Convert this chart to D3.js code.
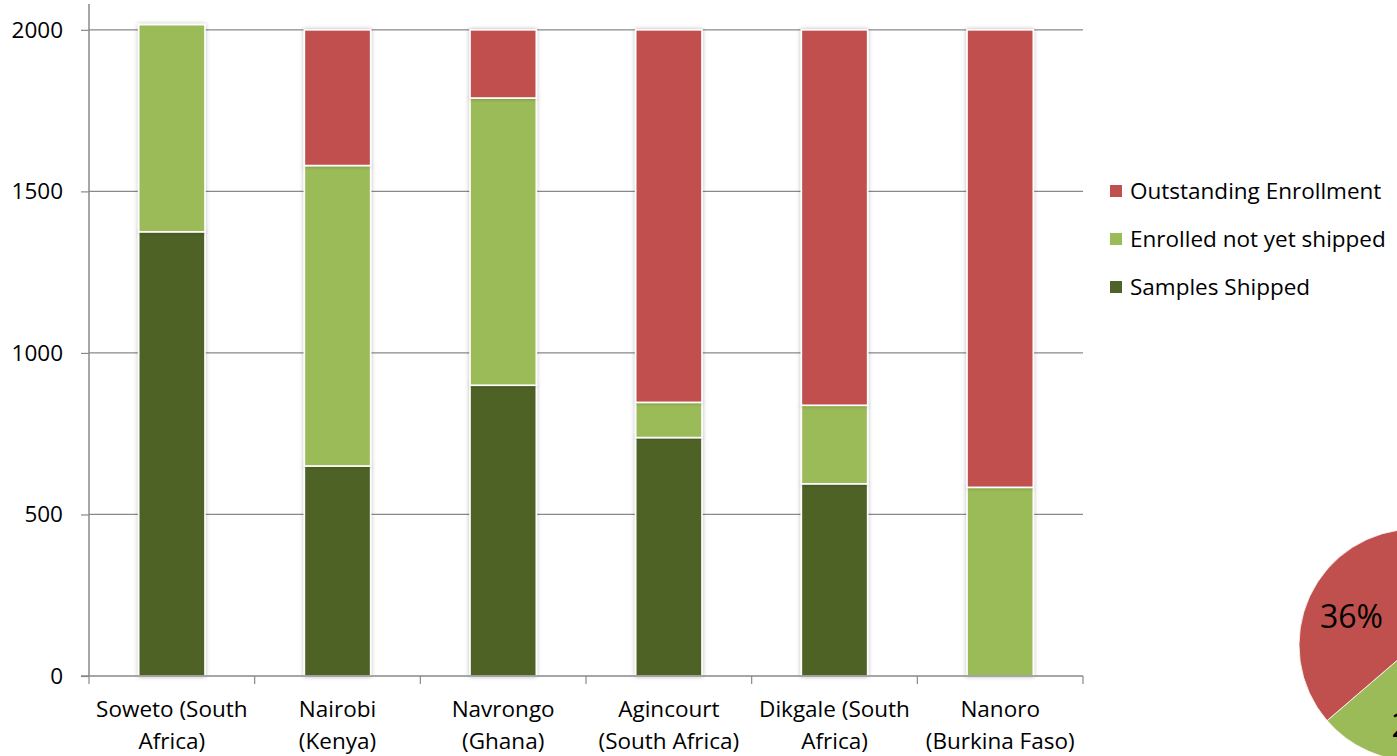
<!DOCTYPE html>
<html>
<head>
<meta charset="utf-8">
<script src="https://cdn.jsdelivr.net/npm/d3@7"></script>
<style>
  html, body { margin: 0; padding: 0; background: #fff; }
  svg { display: block; font-family: "Open Sans", "Noto Sans", sans-serif; }
</style>
</head>
<body>
<svg id="chart" width="1397" height="756"></svg>
<script>
// Site enrollment progress, stacked per site
const categories = [
  ["Soweto (South", "Africa)"],
  ["Nairobi", "(Kenya)"],
  ["Navrongo", "(Ghana)"],
  ["Agincourt", "(South Africa)"],
  ["Dikgale (South", "Africa)"],
  ["Nanoro", "(Burkina Faso)"]
];
const seriesNames = ["Samples Shipped", "Enrolled not yet shipped", "Outstanding Enrollment"];
const samplesShipped = [1375, 650, 900, 738, 595, 0];
const enrolledNotShipped = [641, 930, 889, 109, 243, 584];
const outstandingEnrollment = [0, 420, 211, 1153, 1162, 1416];
const seriesColors = ["#4F6228", "#9BBB59", "#C0504D"];
const yTicks = [0, 500, 1000, 1500, 2000];

const svg = d3.select("#chart");
const fontSize = 22.5;

// Soft outer shadow behind bars
const defs = svg.append("defs");
const f = defs.append("filter").attr("id", "shadow")
  .attr("x", "-20%").attr("y", "-5%").attr("width", "140%").attr("height", "110%");
f.append("feDropShadow").attr("dx", 0).attr("dy", 0)
  .attr("stdDeviation", 2.2).attr("flood-color", "#000").attr("flood-opacity", 0.28);

const plot = { left: 89, right: 1083, top: 4, bottom: 676 };

const keys = categories.map(c => c.join(" "));
const x = d3.scaleBand().domain(keys)
  .range([plot.left, plot.right]).paddingInner(0.6).paddingOuter(0.3);
const y = d3.scaleLinear().domain([0, 2080]).range([plot.bottom, plot.top]);

// Gridlines
svg.append("g").selectAll("line").data(yTicks.filter(t => t > 0)).join("line")
  .attr("x1", plot.left).attr("x2", plot.right)
  .attr("y1", d => y(d)).attr("y2", d => y(d))
  .attr("stroke", "#898989").attr("stroke-width", 1.2);

// Stack the three series
const rows = keys.map((k, i) => ({
  key: k,
  [seriesNames[0]]: samplesShipped[i],
  [seriesNames[1]]: enrolledNotShipped[i],
  [seriesNames[2]]: outstandingEnrollment[i]
}));
const stacked = d3.stack().keys(seriesNames)(rows);

const barsG = svg.append("g");
stacked.forEach((layer, si) => {
  barsG.append("g").selectAll("rect")
    .data(layer.filter(d => d[1] - d[0] > 0)).join("rect")
    .attr("x", d => x(d.data.key))
    .attr("width", x.bandwidth())
    .attr("y", d => y(d[1]))
    .attr("height", d => y(d[0]) - y(d[1]))
    .attr("fill", seriesColors[si])
    .attr("stroke", "#fff").attr("stroke-width", 1.6)
    .attr("filter", "url(#shadow)");
});

// Y axis
const yAxis = d3.axisLeft(y).tickValues(yTicks).tickFormat(d3.format("d"))
  .tickSize(8).tickPadding(18);
const yg = svg.append("g").attr("transform", `translate(${plot.left},0)`).call(yAxis);
yg.select(".domain").attr("stroke", "#898989").attr("stroke-width", 1.5)
  .attr("d", `M0,${plot.top}V${plot.bottom}`);
yg.selectAll(".tick line").attr("stroke", "#898989").attr("stroke-width", 1.2);
yg.selectAll(".tick text").attr("font-size", fontSize).attr("fill", "#000")
  .attr("font-family", "'Open Sans', sans-serif");

// X axis with ticks on category boundaries
const xg = svg.append("g");
xg.append("line").attr("x1", plot.left - 8).attr("x2", plot.right)
  .attr("y1", plot.bottom).attr("y2", plot.bottom)
  .attr("stroke", "#898989").attr("stroke-width", 1.5);
const boundaries = d3.range(keys.length + 1).map(i => plot.left + i * (plot.right - plot.left) / keys.length);
xg.selectAll("line.tick").data(boundaries).join("line").attr("class", "tick")
  .attr("x1", d => d).attr("x2", d => d)
  .attr("y1", plot.bottom).attr("y2", plot.bottom + 8)
  .attr("stroke", "#898989").attr("stroke-width", 1.2);
const labels = xg.selectAll("text.cat").data(categories).join("text").attr("class", "cat")
  .attr("text-anchor", "middle").attr("font-size", fontSize).attr("fill", "#000");
labels.each(function(lines, i) {
  const cx = x(keys[i]) + x.bandwidth() / 2;
  d3.select(this).selectAll("tspan").data(lines).join("tspan")
    .attr("x", cx).attr("y", (d, j) => 717 + j * 32).text(d => d);
});

// Legend
const legendOrder = [2, 1, 0];
const lg = svg.append("g");
legendOrder.forEach((si, r) => {
  const cy = 191 + r * 48;
  lg.append("rect").attr("x", 1110).attr("y", cy - 6).attr("width", 12).attr("height", 12)
    .attr("fill", seriesColors[si]);
  lg.append("text").attr("x", 1130).attr("y", cy).attr("dy", "0.35em")
    .attr("font-size", fontSize).attr("fill", "#000").text(seriesNames[si]);
});

// Overall share pie
const totals = [samplesShipped, enrolledNotShipped, outstandingEnrollment].map(a => d3.sum(a));
const grand = d3.sum(totals);
const pieData = d3.pie().sort(null)(totals);
const r = 116;
const arc = d3.arc().innerRadius(0).outerRadius(r);
const labelArc = d3.arc().innerRadius(r * 0.66).outerRadius(r * 0.66);
const pg = svg.append("g").attr("transform", "translate(1415,645)");
pg.selectAll("path").data(pieData).join("path")
  .attr("d", arc).attr("fill", (d, i) => seriesColors[i])
  .attr("stroke", "#fff").attr("stroke-width", 0.8);
pg.selectAll("text").data(pieData).join("text")
  .attr("transform", d => {
    const [cx, cy] = labelArc.centroid(d);
    return `translate(${cx + 6},${cy + 4})`;
  })
  .attr("text-anchor", "middle").attr("dy", "0.35em")
  .attr("font-size", 32).attr("fill", "#000")
  .text(d => Math.round(d.value / grand * 100) + "%");
</script>
</body>
</html>
